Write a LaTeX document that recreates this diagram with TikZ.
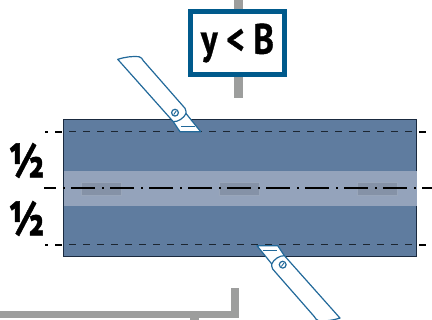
\documentclass[tikz,border=0pt]{standalone}
\usepackage{fontspec}
\setmainfont{PT Sans}
\newfontfamily\heavyface[BoldFeatures={FakeBold=1}]{PT Sans}
\definecolor{plate}{HTML}{5F7C9F}
\definecolor{bandc}{HTML}{94A3BB}
\definecolor{rectc}{HTML}{8592A7}
\definecolor{rectedge}{HTML}{99A6BA}
\definecolor{barc}{HTML}{9D9E9D}
\definecolor{bluec}{HTML}{005A8C}
\definecolor{knifec}{HTML}{22699A}
\definecolor{edgec}{HTML}{1A2A3F}
\definecolor{innerdash}{HTML}{1C2631}
\newcommand{\knifeshape}{%
    \draw[knifeline,fill=white,line join=round]
      (117.7,59.3) .. controls (125,57) and (133,56) .. (139,56.7)
      .. controls (141,57) and (142.5,59) .. (143.3,60.7)
      -- (185,108.3) .. controls (186,110) and (186,112) .. (186,113.5)
      -- (200.7,131.7) -- (180,131.7) -- (173.3,121.7) -- cycle;
    \draw[knifeline] (173.3,121.7) .. controls (178,122) and (184,118) .. (186,113.5);
    \draw[knifeline] (175,112.7) circle (3.4);
    \draw[knifec,line width=.9pt] (173.7,114.5) -- (176.3,110.9);
    \draw[knifeline] (181,126.7) -- (195,126.7);
}
\tikzset{
  barline/.style={fill=barc,draw=none},
  halfline/.style={line width=1.4pt,black,dash pattern=on 7pt off 7pt},
  halfinner/.style={line width=1pt,innerdash,dash pattern=on 7pt off 7pt},
  axisline/.style={black,dash pattern=on 23.5pt off 7.5pt on 1.5pt off 6.5pt},
  spot/.style={fill=rectc,draw=rectedge,line width=.6pt},
  knifeline/.style={knifec,line width=1.2pt},
  labelbox/.style={draw=bluec,line width=5pt,fill=white,minimum width=94pt,minimum height=63pt,inner sep=0pt},
  halftext/.style={inner sep=0pt}
}
\begin{document}
\begin{tikzpicture}[x=1pt,y=-1pt]
\useasboundingbox (0,0) rectangle (432,320);
% feed bars
\fill[barline] (234,0) rectangle (243,98);
\fill[barline] (0,311) rectangle (239,318);
\fill[barline] (231,288) rectangle (239,318);
\fill[barline] (190,318) rectangle (199,320);
% plate
\draw[fill=plate,draw=edgec,line width=1pt] (63.5,119.5) rectangle (416,257);
\fill[bandc] (64,171) rectangle (416.5,206);
\path[spot] (81,182) rectangle (121,195);
\path[spot] (219,182) rectangle (259,195);
\path[spot] (357,182) rectangle (397,195);
% cut lines
\coordinate (ta) at (41,132);
\coordinate (tb) at (432,132);
\coordinate (ca) at (32,188);
\coordinate (cb) at (432,188);
\coordinate (ba) at (41,245);
\coordinate (bb) at (432,245);
\begin{scope}
\clip (45,120) rectangle (63,260) (416,120) rectangle (432,260);
\draw[halfline] (ta) -- (tb);
\draw[halfline] (ba) -- (bb);
\end{scope}
\begin{scope}
\clip (63,120) rectangle (416,260);
\draw[halfinner] (ta) -- (tb);
\draw[halfinner] (ba) -- (bb);
\end{scope}
\begin{scope}
\clip (44,180) rectangle (432,196);
\draw[axisline,line width=1.5pt] (ca) -- (cb);
\end{scope}
\begin{scope}
\clip (44,180) rectangle (97,196) (343,180) rectangle (432,196);
\draw[axisline,line width=2.8pt] (ca) -- (cb);
\end{scope}
% knives
\knifeshape
\begin{scope}[rotate around={180:(228.85,188.7)}]
\knifeshape
\end{scope}
% labels
\node[labelbox] (cond) at (237.5,43) {\scalebox{.87}[1.06]{\heavyface\fontsize{40}{40}\selectfont\bfseries y < B}};
\node[halftext] (h1) at (26.5,160.5) {\scalebox{.95}[1.15]{\heavyface\fontsize{42}{42}\selectfont\bfseries ½}};
\node[halftext] (h2) at (26.5,218.5) {\scalebox{.95}[1.15]{\heavyface\fontsize{42}{42}\selectfont\bfseries ½}};
\end{tikzpicture}
\end{document}
